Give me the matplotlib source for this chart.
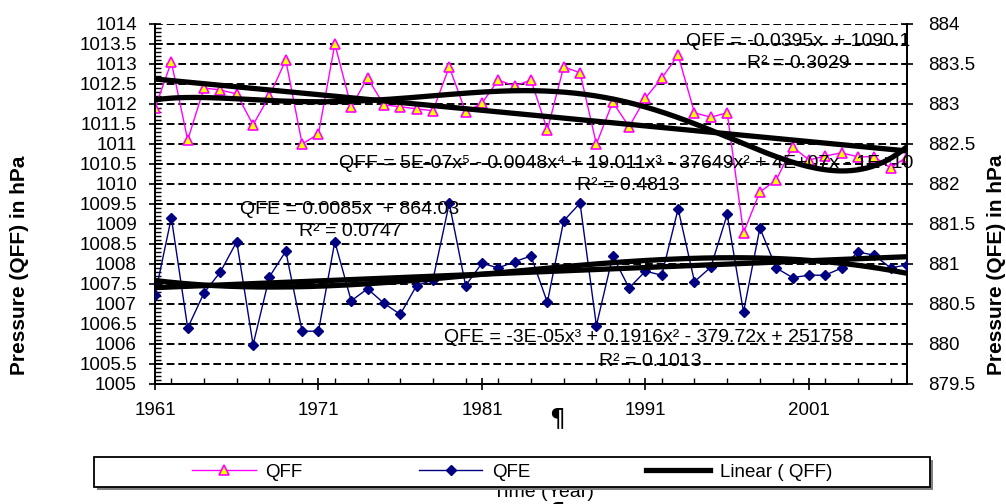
import numpy as np
import matplotlib
matplotlib.use("Agg")
import matplotlib.pyplot as plt
from matplotlib.ticker import MultipleLocator, FuncFormatter, FixedLocator
from matplotlib.patches import Rectangle

plt.rcParams['font.family'] = ['Liberation Sans', 'DejaVu Sans']

years = list(range(1961, 2008))
qff = [1011.9, 1013.05, 1011.1, 1012.4, 1012.35, 1012.25, 1011.48, 1012.2, 1013.1, 1011.0,
       1011.25, 1013.5, 1011.93, 1012.65, 1011.98, 1011.93, 1011.88, 1011.83, 1012.93, 1011.8,
       1012.02, 1012.6, 1012.45, 1012.6, 1011.35, 1012.93, 1012.78, 1011.0, 1012.05, 1011.43,
       1012.15, 1012.65, 1013.22, 1011.78, 1011.67, 1011.78, 1008.78, 1009.8, 1010.1, 1010.93,
       1010.6, 1010.7, 1010.78, 1010.68, 1010.68, 1010.4, 1010.68]
qfe = [880.61, 881.58, 880.2, 880.64, 880.9, 881.28, 879.99, 880.84, 881.16, 880.16,
       880.16, 881.28, 880.54, 880.69, 880.51, 880.37, 880.73, 880.8, 881.76, 880.73,
       881.01, 880.95, 881.03, 881.1, 880.52, 881.54, 881.76, 880.23, 881.1, 880.7,
       880.91, 880.86, 881.69, 880.78, 880.96, 881.62, 880.4, 881.45, 880.95, 880.83,
       880.86, 880.86, 880.95, 881.15, 881.11, 880.95, 880.99]

year_ticks = [1961, 1971, 1981, 1991, 2001]
eq_qff_lin = ["QFF = -0.0395x  + 1090.1", "R\u00b2 = 0.3029"]
eq_qff_poly = ["QFF = 5E-07x\u2075 - 0.0048x\u2074 + 19.011x\u00b3 - 37649x\u00b2 + 4E+07x - 1E+10",
               "R\u00b2 = 0.4813"]
eq_qfe_lin = ["QFE = 0.0085x  + 864.03", "R\u00b2 = 0.0747"]
eq_qfe_poly = ["QFE = -3E-05x\u00b3 + 0.1916x\u00b2 - 379.72x + 251758", "R\u00b2 = 0.1013"]

W, H = 1006, 504
fig = plt.figure(figsize=(W / 100, H / 100), dpi=100)
L, R, T, B = 155, 907, 24, 384
ax = fig.add_axes([L / W, 1 - B / H, (R - L) / W, (B - T) / H])
ax2 = ax.twinx()

x = np.array(years, dtype=float)
xc = x - 1984
fine = np.linspace(x[0], x[-1], 300)

# data
ax.plot(x, qff, color='#FF00FF', lw=1.0, marker='^', ms=6.5, mfc='#FFFF00', mec='#FF00FF',
        mew=1.2, label='QFF', zorder=3)
ax2.plot(x, qfe, color='#000080', lw=1.0, marker='D', ms=5, mfc='#000080', mec='#000080',
         label='QFE', zorder=3)

# trend lines
p1 = np.polyfit(xc, qff, 1)
p5 = np.polyfit(xc, qff, 5)
q1 = np.polyfit(xc, qfe, 1)
q3 = np.polyfit(xc, qfe, 3)
lin_line, = ax.plot(fine, np.polyval(p1, fine - 1984), color='black', lw=3.8, zorder=4,
                    label='Linear ( QFF)')
ax.plot(fine, np.polyval(p5, fine - 1984), color='black', lw=3.8, zorder=4)
ax2.plot(fine, np.polyval(q1, fine - 1984), color='black', lw=3.8, zorder=4)
ax2.plot(fine, np.polyval(q3, fine - 1984), color='black', lw=3.8, zorder=4)

# axes
ax.set_xlim(1961, 2007)
ax.set_ylim(1005, 1014)
ax2.set_ylim(879.5, 884)
ax.xaxis.set_major_locator(FixedLocator(year_ticks))
ax.xaxis.set_minor_locator(MultipleLocator(2))
ax.set_xticklabels([str(y) for y in year_ticks])
ax.yaxis.set_major_locator(MultipleLocator(0.5))
ax.yaxis.set_minor_locator(MultipleLocator(0.1))
ax.yaxis.set_major_formatter(FuncFormatter(lambda v, p: f"{v:g}"))
ax2.yaxis.set_major_locator(MultipleLocator(0.5))
ax2.yaxis.set_major_formatter(FuncFormatter(lambda v, p: f"{v:g}"))

ax.tick_params(axis='x', which='major', direction='inout', length=8, width=1.2,
               labelsize=13.5, pad=9)
ax.tick_params(axis='x', which='minor', direction='in', length=4, width=1.0)
ax.tick_params(axis='y', which='major', direction='inout', length=8, width=1.2,
               labelsize=13.5, pad=9)
ax.tick_params(axis='y', which='minor', direction='in', length=4, width=1.0)
ax2.tick_params(axis='y', which='major', direction='inout', length=8, width=1.2,
                labelsize=13.5, pad=11)

ax.grid(True, axis='y', which='major', color='black', lw=1.4, linestyle=(0, (4, 2)))
for a in (ax, ax2):
    a.spines['top'].set_visible(False)
    for s in ('left', 'right', 'bottom'):
        a.spines[s].set_linewidth(1.3)
ax.set_facecolor('white')

# equations
def ftxt(px, py, s, **kw):
    fig.text(px / W, 1 - py / H, s, ha='center', va='center', fontsize=14, color='black', **kw)

ftxt(798, 42, eq_qff_lin[0]); ftxt(798, 63, eq_qff_lin[1])
ftxt(626, 163, eq_qff_poly[0]); ftxt(628, 185, eq_qff_poly[1])
ftxt(350, 209, eq_qfe_lin[0]); ftxt(350, 232, eq_qfe_lin[1])
ftxt(649, 338, eq_qfe_poly[0]); ftxt(650, 362, eq_qfe_poly[1])

# axis titles
fig.text(20 / W, 1 - 265 / H, 'Pressure (QFF) in hPa', rotation=90, ha='center', va='center',
         fontsize=15, fontweight='bold')
fig.text(996 / W, 1 - 265 / H, 'Pressure (QFE) in hPa', rotation=90, ha='center', va='center',
         fontsize=15, fontweight='bold')
# x-axis title sits partly behind the legend box, as in the reference
fig.text(543 / W, 1 - 497 / H, 'Time (Year)', ha='center', va='baseline', fontsize=14, zorder=2)
fig.text(557 / W, 1 - 418 / H, '\u00b6', ha='center', va='center', fontsize=18,
         family=['DejaVu Sans'])
fig.text(557 / W, 1 - 500 / H, '\u00b6', ha='center', va='top', fontsize=18,
         family=['DejaVu Sans'], zorder=2)

# legend frame (with shadow) and legend
shadow = Rectangle(((94 + 3) / W, 1 - (487 + 3) / H), 836 / W, 30 / H, transform=fig.transFigure,
                   fc='#808080', ec='none', zorder=6)
frame = Rectangle((94 / W, 1 - 487 / H), 836 / W, 30 / H, transform=fig.transFigure,
                  fc='white', ec='black', lw=1.3, zorder=7)
fig.patches.extend([shadow, frame])

handles = [ax.get_lines()[0], ax2.get_lines()[0], lin_line]
labels = ['QFF', 'QFE', 'Linear ( QFF)']
leg = fig.legend(handles, labels, loc='center', ncol=3,
                 bbox_to_anchor=(512 / W, 1 - 472 / H), fontsize=13.5, frameon=False,
                 handlelength=3.4, columnspacing=6.2, borderpad=0.3, handletextpad=0.5)
leg.set_zorder(10)

fig.savefig('out.png', dpi=100)
